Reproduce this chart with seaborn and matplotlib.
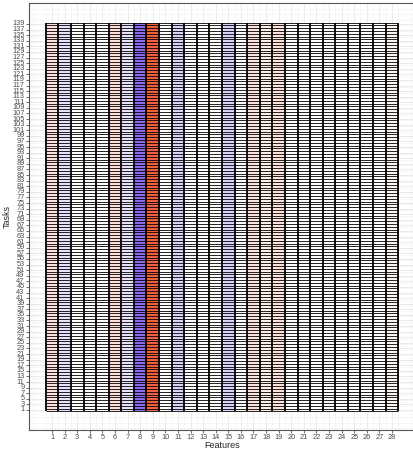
import numpy as np
import pandas as pd
import matplotlib
matplotlib.use("Agg")
import matplotlib.pyplot as plt
from matplotlib.colors import LinearSegmentedColormap
import seaborn as sns

sns.set_style("white")
plt.rcParams["font.family"] = ["Liberation Sans", "DejaVu Sans"]

# Feature-level scores (one value per feature, shared by every task)
features = list(range(1, 29))
feature_scores = [0.15, -0.12, 0.0, 0.01, 0.0, 0.17, -0.12, -0.60, 0.85, 0.0,
                  -0.18, 0.0, 0.0, 0.0, -0.18, 0.02, 0.15, 0.10, 0.15, 0.0,
                  0.0, 0.0, 0.0, 0.0, 0.0, 0.0, 0.0, 0.06]
tasks = list(range(1, 140))
y_tick_tasks = list(range(1, 140, 2))

grid = pd.DataFrame([feature_scores for _ in tasks], index=tasks, columns=features)

cmap = LinearSegmentedColormap.from_list("div", ["#3E0AE6", "#FFFFFF", "#ED441C"])

fig = plt.figure(figsize=(4.13, 4.50), dpi=100)
ax = fig.add_axes([29 / 413, 1 - 430 / 450, 1 - 29 / 413, 427 / 450])
ax.set_axisbelow(True)

sns.heatmap(grid, ax=ax, cmap=cmap, vmin=-1, vmax=1, cbar=False, linewidths=0)

# tile borders
n_rows, n_cols = grid.shape
ax.hlines(np.arange(n_rows + 1), 0, n_cols, colors="black", linewidth=0.6, zorder=3)
ax.vlines(np.arange(n_cols + 1), 0, n_rows, colors="black", linewidth=1.3, zorder=3)

# heatmap cell k spans [k-1, k]; task 1 at the bottom
ax.set_xlim(-1.33, 29.17)
ax.set_ylim(-6.65, 146.0)

xt = [f - 0.5 for f in features]
yt = [t - 0.5 for t in y_tick_tasks]
ax.set_xticks(xt)
ax.set_xticklabels([str(f) for f in features], fontsize=5.3, color="#4D4D4D", rotation=0)
ax.set_yticks(yt)
ax.set_yticklabels([str(t) for t in y_tick_tasks], fontsize=5.3, color="#4D4D4D",
                   rotation=0, va="center")
ax.set_xticks([f for f in range(-1, 30)], minor=True)
ax.set_yticks([t for t in range(-6, 147, 2)], minor=True)

ax.tick_params(axis="both", which="major", length=2, width=0.5, color="#333333", pad=1.2,
               bottom=True, left=True)
ax.tick_params(axis="both", which="minor", length=0)
ax.grid(True, which="major", color="#EBEBEB", linewidth=0.7)
ax.grid(True, which="minor", color="#F3F3F3", linewidth=0.5)

for side in ["left", "bottom", "top"]:
    ax.spines[side].set_visible(True)
    ax.spines[side].set_color("#555555")
    ax.spines[side].set_linewidth(0.8)
ax.spines["right"].set_visible(False)

ax.set_xlabel("Features", fontsize=6.5)
ax.set_ylabel("Tasks", fontsize=6.5)
ax.xaxis.set_label_coords((222 - 29) / (413 - 29), -(445 - 430) / 427)
ax.yaxis.set_label_coords(-(29 - 7) / (413 - 29), 0.5)
ax.xaxis.label.set_va("center")
ax.yaxis.label.set_va("center")

fig.savefig("out.png", dpi=100)
